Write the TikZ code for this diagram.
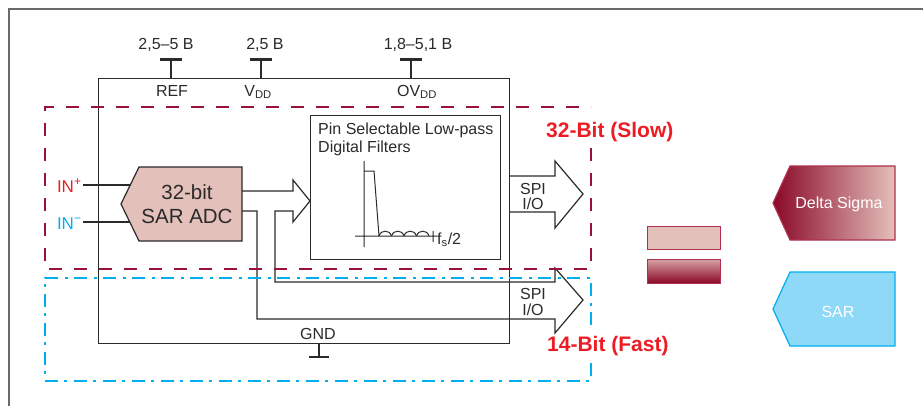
\documentclass[tikz,border=0pt]{standalone}
\usepackage{fontspec}
\setmainfont{Liberation Sans}
\usepackage{xcolor}

\definecolor{ink}{HTML}{2A2A2A}
\definecolor{framegrey}{HTML}{6A6A6A}
\definecolor{wine}{HTML}{9A1238}
\definecolor{winedark}{HTML}{8A0828}
\definecolor{rose}{HTML}{E4C0BA}
\definecolor{roseedge}{HTML}{B0304F}
\definecolor{cyanline}{HTML}{00AEEF}
\definecolor{cyanfill}{HTML}{8ED8F8}
\definecolor{signalred}{HTML}{ED1C24}

\begin{document}
\begin{tikzpicture}[x=1pt,y=-1pt,
    wire/.style={draw=ink,line width=1.2pt},
    pinbar/.style={draw=ink,line width=3pt},
    txt/.style={text=ink,inner sep=0pt,font=\fontsize{16}{16}\selectfont},
    slowbox/.style={draw=wine,line width=2.5pt,dash pattern=on 13pt off 12pt},
    fastbox/.style={draw=cyanline,line width=2.5pt,dash pattern=on 13pt off 6pt on 3pt off 7pt},
    bitlabel/.style={text=signalred,inner sep=0pt,anchor=base west,font=\fontsize{21}{24}\selectfont\bfseries}]
            \useasboundingbox (0,0) rectangle (923,405);

            % frame
            \draw[framegrey,line width=1.5pt] (9,410) -- (9,9) -- (930,9);

            % chip and supply pins
            \node (chip) at (98,78) [wire,anchor=north west,minimum width=411pt,minimum height=265pt] {};
            \coordinate (refpin) at (171,59);
            \coordinate (vddpin) at (261,59);
            \coordinate (ovddpin) at (411,59);
            \coordinate (gndpin) at (319,357);

            \draw[wire] (refpin) -- (refpin |- chip.north) (vddpin) -- (vddpin |- chip.north) (ovddpin) -- (ovddpin |- chip.north) (gndpin) -- (gndpin |- chip.south);
            \draw[pinbar] ([xshift=-11pt]refpin) -- ([xshift=11pt]refpin) ([xshift=-11pt]vddpin) -- ([xshift=11pt]vddpin) ([xshift=-11pt]ovddpin) -- ([xshift=11pt]ovddpin);
            \draw[wire,line width=2pt] ([xshift=-10pt]gndpin) -- ([xshift=10pt]gndpin);

            \node (refv) at (166,49) [txt,anchor=base] {2,5–5 B};
            \node (vddv) at (265,49) [txt,anchor=base] {2,5 B};
            \node (ovddv) at (418,49) [txt,anchor=base] {1,8–5,1 B};
            \node (ref) at (172,96) [txt,anchor=base] {REF};
            \node (vdd) at (258,96) [txt,anchor=base] {V\textsubscript{DD}};
            \node (ovdd) at (417,96) [txt,anchor=base] {OV\textsubscript{DD}};
            \node (gnd) at (318,339) [txt,anchor=base] {GND};

            % converter
            \draw[wire,fill=rose] (121,204) -- (139,167) -- (242,167) -- (242,241) -- (139,241) -- cycle;
            \node (adc) at (187,223) [txt,anchor=base,align=center,font=\fontsize{20.5}{24}\selectfont] {32-bit\\SAR ADC};

            \node (inp) at (55,192) [txt,anchor=base west,outer xsep=2pt,text=signalred,font=\fontsize{17}{17}\selectfont] {IN\textsuperscript{+}};
            \node (inm) at (55,229) [txt,anchor=base west,outer xsep=2pt,text=cyanline,font=\fontsize{17}{17}\selectfont] {IN\textsuperscript{−}};
            \coordinate (inpend) at (130,185);
            \coordinate (inmend) at (130,222);
            \draw[wire] (inp.east |- inpend) -- (inpend) (inm.east |- inmend) -- (inmend);

            % data paths
            \draw[wire] (242,191) -- (293,191) -- (293,180) -- (310,201) -- (293,222) -- (293,211) -- (275,211) -- (275,282) -- (555,282) -- (555,268) -- (583,300) -- (555,333) -- (555,319) -- (257,319) -- (257,211) -- (242,211);
            \draw[wire] (509,176) -- (555,176) -- (555,161) -- (583,194) -- (555,228) -- (555,212) -- (509,212);
            \node (spia) at (533,209) [txt,anchor=base,align=center,font=\fontsize{16}{15}\selectfont] {SPI\\I/O};
            \node (spib) at (533,315) [txt,anchor=base,align=center,font=\fontsize{16}{16}\selectfont] {SPI\\I/O};

            % filter
            \node (filt) at (310,115) [wire,anchor=north west,minimum width=190pt,minimum height=144pt] {};
            \node (filttxt) at (318,152) [txt,anchor=base west,align=left,font=\fontsize{16}{18}\selectfont] {Pin Selectable Low-pass\\Digital Filters};
            \draw[wire,line width=1pt] (364,161) -- (364,247) (355,236) -- (437,236) (433,231) -- (433,242) (364,171) -- (374,171) -- (379,236);
            \foreach \x in {379,391.5,404,416.5}
              \draw[wire,line width=1pt] (\x,236) .. controls (\x+2,229.5) and (\x+10.5,229.5) .. (\x+12.5,236);
            \node (fs) at (437,244) [txt,anchor=base west] {f\textsubscript{s}/2};

            % regions
            \draw[slowbox] (591,148) -- (591,269) -- (45,269) -- (45,107) -- (591,107);
            \draw[fastbox] (591,325) -- (591,278) -- (45,278) -- (45,381) -- (591,381) -- (591,362);
            \node (slow) at (546,137) [bitlabel] {32-Bit (Slow)};
            \node (fast) at (547,351) [bitlabel] {14-Bit (Fast)};

            % legend
            \draw[roseedge,line width=1pt,fill=rose] (647,226) rectangle (720,249);
            \path[draw=roseedge,line width=1pt,top color=rose!85!winedark,bottom color=winedark] (647,259) rectangle (720,283);
            \path[draw=roseedge,line width=1.2pt,left color=winedark,right color=rose] (773,203) -- (790,166) -- (895,166) -- (895,240) -- (790,240) -- cycle;
            \draw[cyanline,line width=1.2pt,fill=cyanfill] (773,309) -- (790,272) -- (895,272) -- (895,346) -- (790,346) -- cycle;
            \node (ds) at (839,208) [txt,anchor=base,text=white] {Delta Sigma};
            \node (sar) at (838,317) [txt,anchor=base,text=white] {SAR};

        \end{tikzpicture}
\end{document}
